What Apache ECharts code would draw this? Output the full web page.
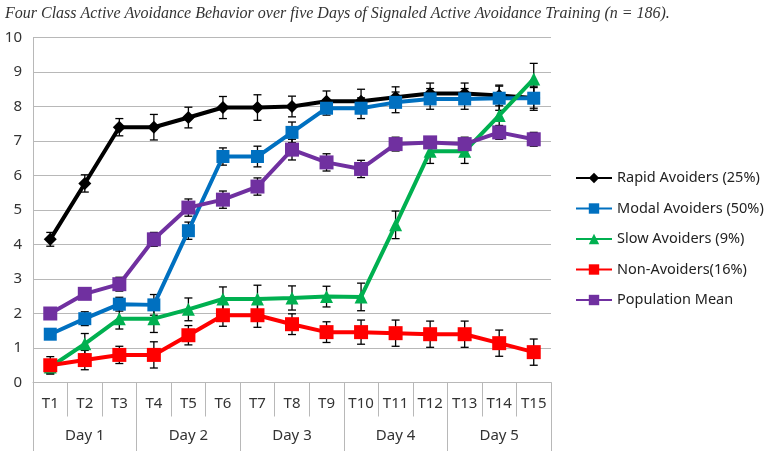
<!DOCTYPE html>
<html><head><meta charset="utf-8">
<script src="https://cdn.jsdelivr.net/npm/echarts@6/dist/echarts.min.js"></script>
<style>html,body{margin:0;padding:0;background:#fff}#c{width:767px;height:451px}</style>
</head><body><div id="c"></div>
<script>
var titleText = 'Four Class Active Avoidance Behavior over five Days of Signaled Active Avoidance Training (n = 186).';
var trials = ['T1','T2','T3','T4','T5','T6','T7','T8','T9','T10','T11','T12','T13','T14','T15'];
var days = ['Day 1','Day 2','Day 3','Day 4','Day 5'];
var yTicks = [0,1,2,3,4,5,6,7,8,9,10];

var rapidName = 'Rapid Avoiders (25%)';
var rapid    = [4.15,5.77,7.40,7.40,7.68,7.97,7.97,8.00,8.15,8.15,8.27,8.38,8.38,8.32,8.25];
var rapidErr = [0.20,0.25,0.25,0.37,0.30,0.32,0.37,0.30,0.30,0.35,0.30,0.30,0.30,0.30,0.30];

var modalName = 'Modal Avoiders (50%)';
var modal    = [1.40,1.85,2.27,2.25,4.40,6.55,6.55,7.25,7.95,7.95,8.12,8.22,8.22,8.24,8.24];
var modalErr = [0.15,0.20,0.20,0.30,0.25,0.25,0.30,0.30,0.20,0.30,0.30,0.30,0.30,0.35,0.35];

var slowName = 'Slow Avoiders (9%)';
var slow    = [0.45,1.12,1.85,1.85,2.12,2.42,2.42,2.45,2.49,2.48,4.57,6.70,6.70,7.74,8.80];
var slowErr = [0.20,0.30,0.30,0.40,0.33,0.35,0.40,0.35,0.30,0.40,0.40,0.35,0.35,0.35,0.45];

var nonName = 'Non-Avoiders(16%)';
var non    = [0.50,0.65,0.80,0.80,1.37,1.95,1.95,1.69,1.46,1.46,1.43,1.40,1.40,1.14,0.88];
var nonErr = [0.25,0.28,0.25,0.38,0.28,0.32,0.35,0.30,0.30,0.35,0.38,0.38,0.38,0.38,0.38];

var popName = 'Population Mean';
var pop    = [2.00,2.57,2.85,4.15,5.07,5.30,5.68,6.75,6.38,6.19,6.91,6.96,6.91,7.25,7.05];
var popErr = [0.10,0.15,0.20,0.20,0.25,0.25,0.25,0.30,0.25,0.25,0.20,0.15,0.20,0.20,0.20];

var colors = {rapid:'#000000', modal:'#0070C0', slow:'#00B050', non:'#FF0000', pop:'#7030A0'};

function errData(vals, errs){
  return vals.map(function(v,i){ return [i, v-errs[i], v+errs[i]]; });
}
function errSeries(vals, errs){
  return {
    type:'custom', z:1, silent:true,
    renderItem:function(params, api){
      var x = api.value(0);
      var lo = api.coord([x, api.value(1)]);
      var hi = api.coord([x, api.value(2)]);
      var w = 4;
      var st = {stroke:'#000', lineWidth:1.3};
      return {type:'group', children:[
        {type:'line', shape:{x1:lo[0],y1:lo[1],x2:hi[0],y2:hi[1]}, style:st},
        {type:'line', shape:{x1:lo[0]-w,y1:lo[1],x2:lo[0]+w,y2:lo[1]}, style:st},
        {type:'line', shape:{x1:hi[0]-w,y1:hi[1],x2:hi[0]+w,y2:hi[1]}, style:st}
      ]};
    },
    data: errData(vals, errs)
  };
}
function lineSeries(name, vals, color, symbol, size, z){
  return {
    name:name, type:'line', data:vals, z:z,
    symbol:symbol, symbolSize:size, showSymbol:true,
    lineStyle:{color:color, width:4},
    itemStyle:{color:color, borderWidth:0},
    emphasis:{disabled:true}
  };
}

var chart = echarts.init(document.getElementById('c'), null, {renderer:'canvas'});
var axisFont = 'Noto Sans';
chart.setOption({
  animation:false,
  title:{
    text:titleText, left:0, top:1,
    textStyle:{fontFamily:'Liberation Serif', fontStyle:'italic', fontWeight:'normal', fontSize:16, color:'#333'}
  },
  legend:{
    orient:'vertical', left:570, top:165.5, itemGap:15.5,
    itemWidth:36, itemHeight:13,
    data:[rapidName, modalName, slowName, nonName, popName],
    textStyle:{fontFamily:axisFont, fontSize:14.5, color:'#222'}
  },
  grid:{left:33, right:216, top:37.5, bottom:68.5},
  xAxis:[{
    type:'category', data:trials, position:'bottom',
    axisLine:{show:true, lineStyle:{color:'#b8b8b8', width:1}},
    axisTick:{show:true, length:34, lineStyle:{color:'#b8b8b8'}},
    axisLabel:{margin:14, fontFamily:axisFont, fontSize:15, color:'#333', interval:0},
    splitLine:{show:false}
  },{
    type:'category', data:days, position:'bottom', offset:0,
    axisLine:{show:false},
    axisTick:{show:true, length:69, lineStyle:{color:'#b8b8b8'}},
    axisLabel:{margin:46, fontFamily:axisFont, fontSize:15, color:'#333', interval:0},
    splitLine:{show:false}
  }],
  yAxis:{
    type:'value', min:yTicks[0], max:yTicks[yTicks.length-1], interval:1,
    axisLine:{show:true, lineStyle:{color:'#b8b8b8'}},
    axisTick:{show:false},
    axisLabel:{margin:11, fontFamily:axisFont, fontSize:15, color:'#333'},
    splitLine:{show:true, lineStyle:{color:'#b8b8b8', width:1}}
  },
  series:[
    errSeries(rapid, rapidErr),
    errSeries(modal, modalErr),
    errSeries(slow, slowErr),
    errSeries(non, nonErr),
    errSeries(pop, popErr),
    lineSeries(rapidName, rapid, colors.rapid, 'diamond', 13, 2),
    lineSeries(modalName, modal, colors.modal, 'rect', 13, 3),
    lineSeries(slowName, slow, colors.slow, 'triangle', 13, 4),
    lineSeries(nonName, non, colors.non, 'rect', 14, 5),
    lineSeries(popName, pop, colors.pop, 'rect', 14, 6)
  ]
});
</script>
</body></html>
